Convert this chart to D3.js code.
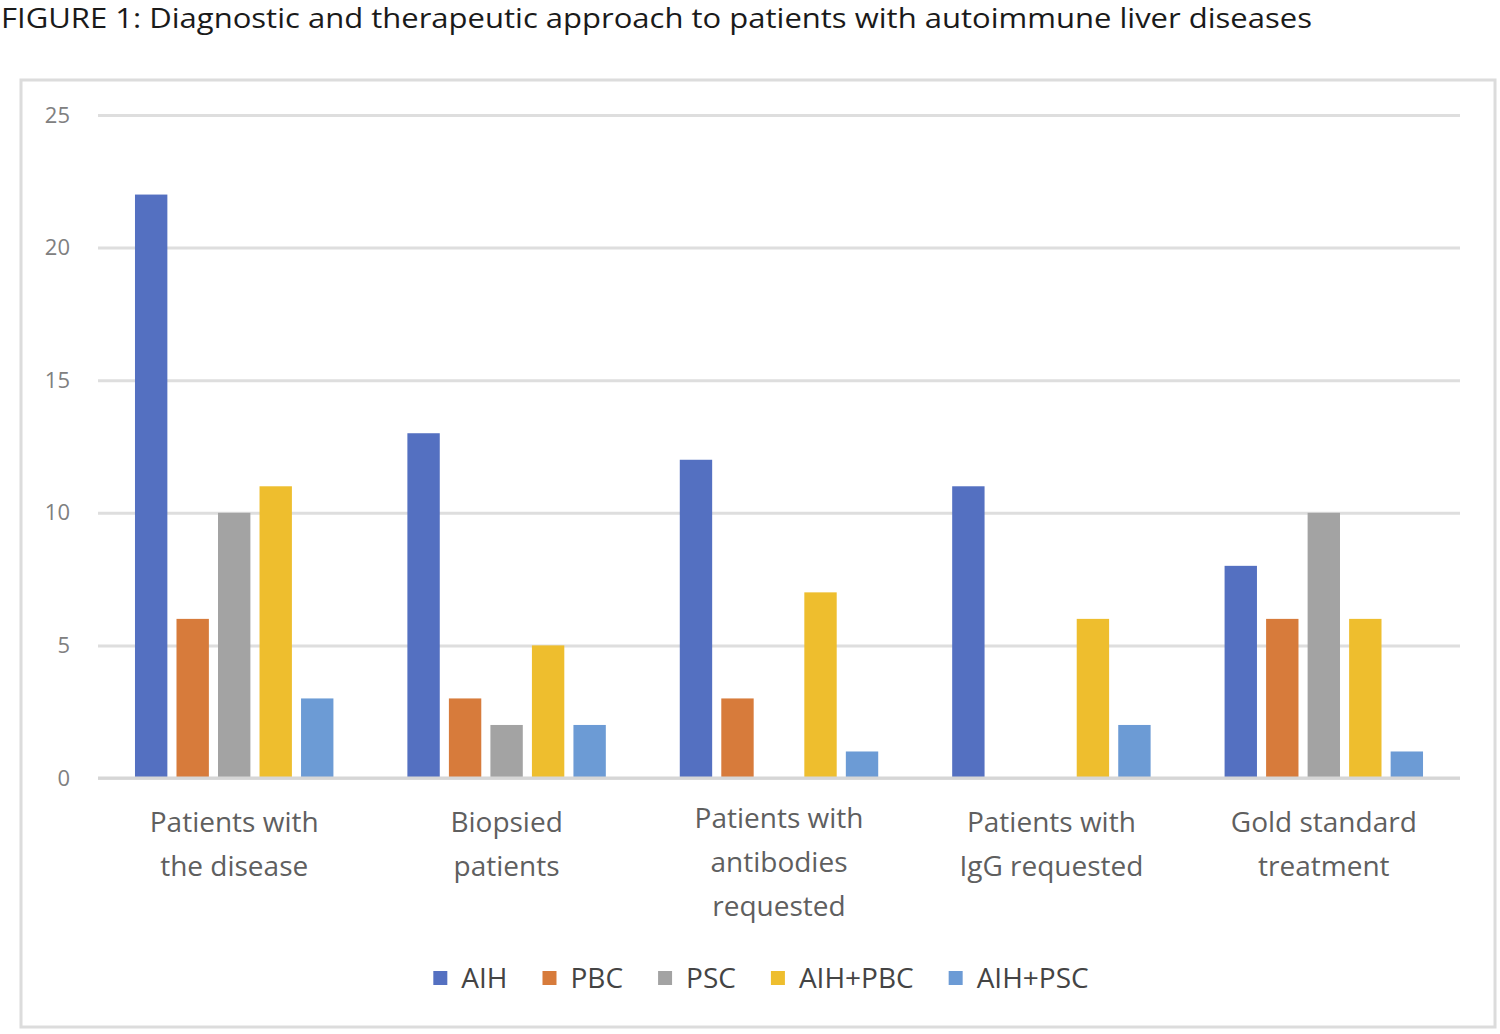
<!DOCTYPE html>
<html>
<head>
<meta charset="utf-8">
<script src="https://cdn.jsdelivr.net/npm/d3@7"></script>
<style>
  body { margin: 0; background: #fff; }
  svg { display: block; }
</style>
</head>
<body>
<svg id="chart" width="1500" height="1034"></svg>
<script>
// chart data
var categories = ["Patients with the disease", "Biopsied patients", "Patients with antibodies requested", "Patients with IgG requested", "Gold standard treatment"]
var categoryLines = [["Patients with", "the disease"], ["Biopsied", "patients"], ["Patients with", "antibodies", "requested"], ["Patients with", "IgG requested"], ["Gold standard", "treatment"]]
var seriesNames = ["AIH", "PBC", "PSC", "AIH+PBC", "AIH+PSC"]
var aih = [22, 13, 12, 11, 8]
var pbc = [6, 3, 3, 0, 6]
var psc = [10, 2, 0, 0, 10]
var aihPbc = [11, 5, 7, 6, 6]
var aihPsc = [3, 2, 1, 2, 1]
var yTicks = [0, 5, 10, 15, 20, 25]
var colors = ["#5470C1", "#D77B3B", "#A3A3A3", "#EEBE2E", "#6C9BD5"]

var seriesValues = [aih, pbc, psc, aihPbc, aihPsc]

var svg = d3.select("#chart")

// title
svg.append("text")
  .attr("x", 1).attr("y", 28)
  .attr("fill", "#1a1a1a")
  .attr("textLength", 1311)
  .attr("lengthAdjust", "spacingAndGlyphs")
  .style("font-family", "Open Sans")
  .style("font-size", "27px")
  .text("FIGURE 1: Diagnostic and therapeutic approach to patients with autoimmune liver diseases")

// chart frame
svg.append("rect")
  .attr("x", 21).attr("y", 80).attr("width", 1474).attr("height", 947)
  .attr("fill", "#fff").attr("stroke", "#dcdcdc").attr("stroke-width", 3)

var plotLeft = 98, plotRight = 1460, plotTop = 115, plotBottom = 778

var y = d3.scaleLinear().domain([0, 25]).range([plotBottom, plotTop])
var x0 = d3.scaleBand().domain(categories).range([plotLeft, plotRight]).paddingInner(0.238).paddingOuter(0.119)
var x1 = d3.scaleBand().domain(seriesNames).range([0, x0.bandwidth()]).paddingInner(0.22).paddingOuter(0.11)

// gridlines + y labels
var yAxis = d3.axisLeft(y).tickValues(yTicks).tickSize(-(plotRight - plotLeft)).tickPadding(28)
var g = svg.append("g").attr("transform", "translate(" + plotLeft + ",0)").call(yAxis)
g.select(".domain").remove()
g.selectAll(".tick line").attr("stroke", "#dedede").attr("stroke-width", 3)
g.selectAll(".tick text")
  .attr("fill", "#808080")
  .style("font-family", "Open Sans")
  .style("font-size", "22px")

// bars
var groups = svg.append("g").selectAll("g")
  .data(categories)
  .join("g")
  .attr("transform", d => "translate(" + x0(d) + ",0)")

groups.selectAll("rect")
  .data((d, i) => seriesNames.map((s, j) => ({ s: s, v: seriesValues[j][i], c: colors[j] })))
  .join("rect")
  .attr("x", d => x1(d.s))
  .attr("y", d => y(d.v))
  .attr("width", x1.bandwidth())
  .attr("height", d => y(0) - y(d.v))
  .attr("fill", d => d.c)

// baseline
svg.append("line")
  .attr("x1", plotLeft).attr("x2", plotRight).attr("y1", y(0)).attr("y2", y(0))
  .attr("stroke", "#d6d6d6").attr("stroke-width", 3)

// category labels
var labels = svg.append("g").selectAll("text")
  .data(categories)
  .join("text")
  .attr("text-anchor", "middle")
  .attr("fill", "#5f5f5f")
  .style("font-family", "Open Sans")
  .style("font-size", "28px")

labels.each(function(d, i) {
  var t = d3.select(this)
  var cx = x0(d) + x0.bandwidth() / 2
  var startY = categoryLines[i].length > 2 ? 828 : 832
  categoryLines[i].forEach((ln, k) => {
    t.append("tspan").attr("x", cx).attr("y", startY + k * 44).text(ln)
  })
})

// legend
var legend = svg.append("g")
var items = legend.selectAll("g")
  .data(seriesNames)
  .join("g")
items.append("rect")
  .attr("width", 14).attr("height", 14).attr("y", -7)
  .attr("fill", (d, i) => colors[i])
items.append("text")
  .attr("x", 28).attr("y", 10)
  .attr("fill", "#444")
  .style("font-family", "Open Sans")
  .style("font-size", "28px")
  .text(d => d)

var pos = 0
var offsets = []
items.each(function() {
  offsets.push(pos)
  pos += 28 + this.querySelector("text").getComputedTextLength() + 35
})
var totalW = pos - 35
items.attr("transform", (d, i) => "translate(" + offsets[i] + ",0)")
legend.attr("transform", "translate(" + (761 - totalW / 2) + ",978)")
</script>
</body>
</html>
